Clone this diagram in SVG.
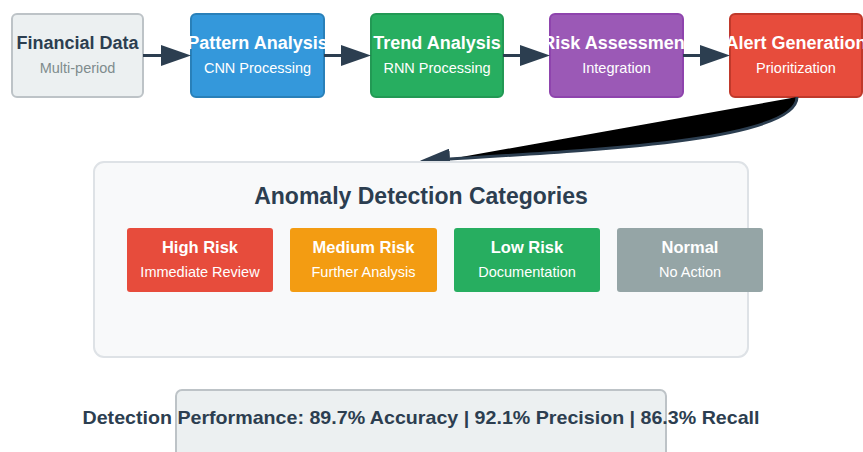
<svg xmlns="http://www.w3.org/2000/svg" width="863" height="452" viewBox="0 0 863 452">
  <style>
    text { font-family: "Liberation Sans", Arial, Helvetica, sans-serif; text-anchor: middle; }
    .t { font-size: 18px; font-weight: bold; fill: #ffffff; }
    .s { font-size: 14.5px; fill: #ffffff; }
    .ct { font-size: 16.5px; font-weight: bold; fill: #ffffff; }
    .cs { font-size: 14.5px; fill: #ffffff; }
    .flow { stroke: #2c3e50; stroke-width: 3; }
  </style>
  <defs>
    <marker id="arrow" markerWidth="10" markerHeight="7" refX="0" refY="3.5" orient="auto">
      <polygon points="0 0, 10 3.5, 0 7" fill="#2c3e50"/>
    </marker>
  </defs>

  <!-- pipeline stages -->
  <g id="financial-data">
    <rect x="12" y="14" width="131" height="83" rx="5" fill="#ecf0f1" stroke="#bdc3c7" stroke-width="2"/>
    <text x="77.5" y="49" class="t" style="fill:#2c3e50">Financial Data</text>
    <text x="77.5" y="73" class="s" style="fill:#7f8c8d">Multi-period</text>
  </g>
  <g id="pattern-analysis">
    <rect x="191" y="14" width="133" height="83" rx="5" fill="#3498db" stroke="#2980b9" stroke-width="2"/>
    <text x="257.5" y="49" class="t">Pattern Analysis</text>
    <text x="257.5" y="73" class="s">CNN Processing</text>
  </g>
  <g id="trend-analysis">
    <rect x="371" y="14" width="132" height="83" rx="5" fill="#27ae60" stroke="#229954" stroke-width="2"/>
    <text x="437" y="49" class="t">Trend Analysis</text>
    <text x="437" y="73" class="s">RNN Processing</text>
  </g>
  <g id="risk-assessment">
    <rect x="550" y="14" width="133" height="83" rx="5" fill="#9b59b6" stroke="#8e44ad" stroke-width="2"/>
    <text x="616.5" y="49" class="t">Risk Assessment</text>
    <text x="616.5" y="73" class="s">Integration</text>
  </g>
  <g id="alert-generation">
    <rect x="730" y="14" width="132" height="83" rx="5" fill="#e74c3c" stroke="#c0392b" stroke-width="2"/>
    <text x="796" y="49" class="t">Alert Generation</text>
    <text x="796" y="73" class="s">Prioritization</text>
  </g>

  <!-- connectors -->
  <g id="connectors">
    <line x1="143" y1="55.5" x2="161" y2="55.5" class="flow" marker-end="url(#arrow)"/>
    <line x1="324" y1="55.5" x2="341" y2="55.5" class="flow" marker-end="url(#arrow)"/>
    <line x1="503" y1="55.5" x2="520" y2="55.5" class="flow" marker-end="url(#arrow)"/>
    <line x1="683" y1="55.5" x2="700" y2="55.5" class="flow" marker-end="url(#arrow)"/>
    <path d="M 797 97 C 797 140, 600 150, 450 159" class="flow" fill="#000000" marker-end="url(#arrow)"/>
  </g>

  <!-- categories panel -->
  <g id="categories">
    <rect x="94" y="162" width="654" height="195" rx="10" fill="#f8f9fa" stroke="#dee2e6" stroke-width="2"/>
    <text x="421" y="204" font-size="23" font-weight="bold" fill="#2c3e50">Anomaly Detection Categories</text>
  </g>
  <g id="high-risk">
    <rect x="127" y="228" width="146" height="64" rx="3" fill="#e74c3c"/>
    <text x="200" y="253" class="ct">High Risk</text>
    <text x="200" y="277" class="cs">Immediate Review</text>
  </g>
  <g id="medium-risk">
    <rect x="290" y="228" width="147" height="64" rx="3" fill="#f39c12"/>
    <text x="363.5" y="253" class="ct">Medium Risk</text>
    <text x="363.5" y="277" class="cs">Further Analysis</text>
  </g>
  <g id="low-risk">
    <rect x="454" y="228" width="146" height="64" rx="3" fill="#27ae60"/>
    <text x="527" y="253" class="ct">Low Risk</text>
    <text x="527" y="277" class="cs">Documentation</text>
  </g>
  <g id="normal">
    <rect x="617" y="228" width="146" height="64" rx="3" fill="#95a5a6"/>
    <text x="690" y="253" class="ct">Normal</text>
    <text x="690" y="277" class="cs">No Action</text>
  </g>

  <!-- performance summary -->
  <g id="performance">
    <rect x="176" y="390" width="490" height="70" rx="6" fill="#ecf0f1" stroke="#bdc3c7" stroke-width="2"/>
    <text x="421" y="424" font-size="19" font-weight="bold" fill="#2c3e50" textLength="677" lengthAdjust="spacingAndGlyphs">Detection Performance: 89.7% Accuracy | 92.1% Precision | 86.3% Recall</text>
  </g>
</svg>
